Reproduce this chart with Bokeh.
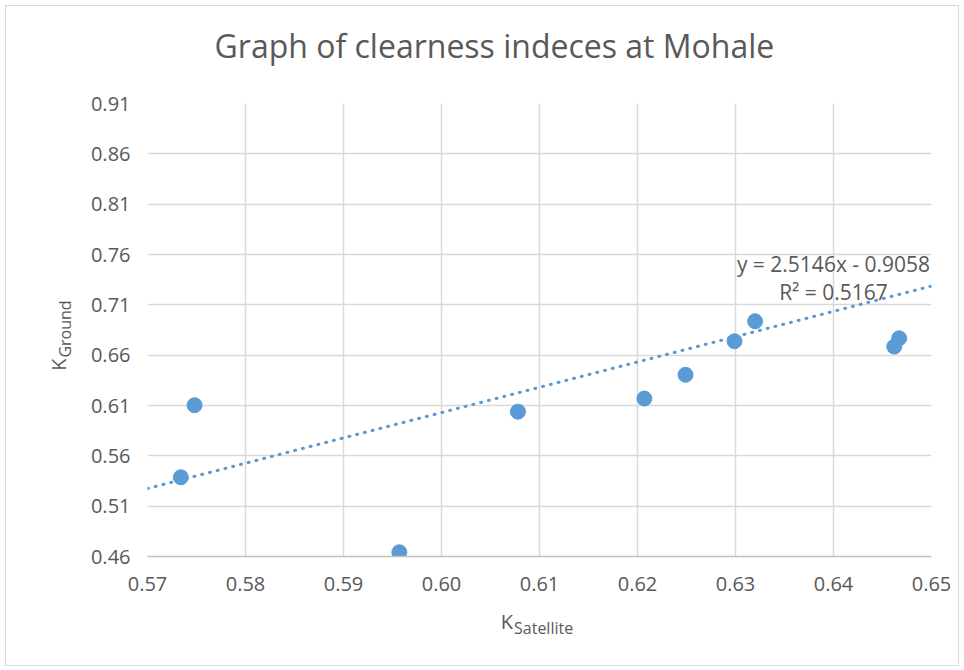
from bokeh.plotting import figure
from bokeh.models import Range1d, FixedTicker, PrintfTickFormatter, Label, ColumnDataSource
from bokeh.embed import file_html
from bokeh.resources import INLINE
import math

# ---- data ----
k_satellite = [0.5734, 0.5748, 0.5957, 0.6078, 0.6207, 0.6249, 0.6299, 0.6320, 0.6462, 0.6467]
k_ground = [0.5387, 0.6103, 0.4642, 0.6039, 0.6169, 0.6405, 0.6738, 0.6937, 0.6685, 0.6768]
trend_slope = 2.5146
trend_intercept = -0.9058
r_squared = 0.5167
x_ticks = [0.57, 0.58, 0.59, 0.60, 0.61, 0.62, 0.63, 0.64, 0.65]
y_ticks = [0.46, 0.51, 0.56, 0.61, 0.66, 0.71, 0.76, 0.81, 0.86, 0.91]
title_text = "Graph of clearness indeces at Mohale"

BLUE = "#5B9BD5"
GREY_TXT = "#595959"
GRID = "#d9d9d9"
FONT = "Open Sans"

p = figure(width=954, height=661, output_backend="svg", toolbar_location=None,
           x_range=Range1d(x_ticks[0], x_ticks[-1]), y_range=Range1d(y_ticks[0], y_ticks[-1]),
           min_border_left=141, min_border_right=29, min_border_top=97, min_border_bottom=111)
p.styles = {"border": "1px solid #d9d9d9", "margin-left": "5px", "margin-top": "5px"}
p.outline_line_color = None
p.background_fill_color = "white"
p.border_fill_color = "white"

for ax, ticks in ((p.xaxis, x_ticks), (p.yaxis, y_ticks)):
    ax.ticker = FixedTicker(ticks=ticks)
    ax.formatter = PrintfTickFormatter(format="%.2f")
    ax.major_tick_line_color = None
    ax.minor_tick_line_color = None
    ax.major_tick_out = 0
    ax.major_tick_in = 0
    ax.major_label_text_font = FONT
    ax.major_label_text_font_size = "20px"
    ax.major_label_text_color = GREY_TXT
    ax.axis_label = None

p.xaxis.axis_line_color = "#bfbfbf"
p.xaxis.axis_line_width = 1.5
p.yaxis.axis_line_color = None
p.xaxis.major_label_standoff = 20
p.yaxis.major_label_standoff = 17

p.xgrid.ticker = FixedTicker(ticks=x_ticks)
p.ygrid.ticker = FixedTicker(ticks=y_ticks)
p.xgrid.grid_line_color = GRID
p.ygrid.grid_line_color = GRID
p.xgrid.grid_line_width = 1.5
p.ygrid.grid_line_width = 1.5

# trendline from regression coefficients
tx = [x_ticks[0], x_ticks[-1]]
ty = [trend_slope * x + trend_intercept for x in tx]
p.line(tx, ty, line_color=BLUE, line_width=3, line_dash="1 7", line_cap="round")

src = ColumnDataSource(dict(x=k_satellite, y=k_ground))
p.scatter("x", "y", source=src, size=15, fill_color=BLUE, line_color=BLUE)

# trendline equation
p.add_layout(Label(x=0.6400, y=0.7504, text=f"y = {trend_slope:.4f}x - {abs(trend_intercept):.4f}",
                   text_align="center", text_baseline="alphabetic", text_font=FONT,
                   text_font_size="21px", text_color=GREY_TXT))
p.add_layout(Label(x=0.6400, y=0.7224, text=f"R² = {r_squared:.4f}",
                   text_align="center", text_baseline="alphabetic", text_font=FONT,
                   text_font_size="21px", text_color=GREY_TXT))

# title (placed in the top panel so it is not clipped to the frame)
p.add_layout(Label(x=0.6054, y=0.9679, text=title_text, text_align="center",
                   text_baseline="alphabetic", text_font=FONT, text_font_size="32px",
                   text_color=GREY_TXT), "above")

# x axis label K_Satellite
p.add_layout(Label(x=0.6073, y=0.3952, text="K", text_align="right", text_baseline="alphabetic",
                   text_font=FONT, text_font_size="20px", text_color=GREY_TXT), "below")
p.add_layout(Label(x=0.6074, y=0.3892, text="Satellite", text_align="left", text_baseline="alphabetic",
                   text_font=FONT, text_font_size="16px", text_color=GREY_TXT), "below")

# y axis label K_Ground (rotated)
p.add_layout(Label(x=0.5609, y=0.6566, text="K", text_align="right", text_baseline="alphabetic",
                   angle=math.pi / 2, text_font=FONT, text_font_size="20px", text_color=GREY_TXT), "left")
p.add_layout(Label(x=0.5616, y=0.6576, text="Ground", text_align="left", text_baseline="alphabetic",
                   angle=math.pi / 2, text_font=FONT, text_font_size="16px", text_color=GREY_TXT), "left")

open("out.html", "w").write(file_html(p, INLINE))
